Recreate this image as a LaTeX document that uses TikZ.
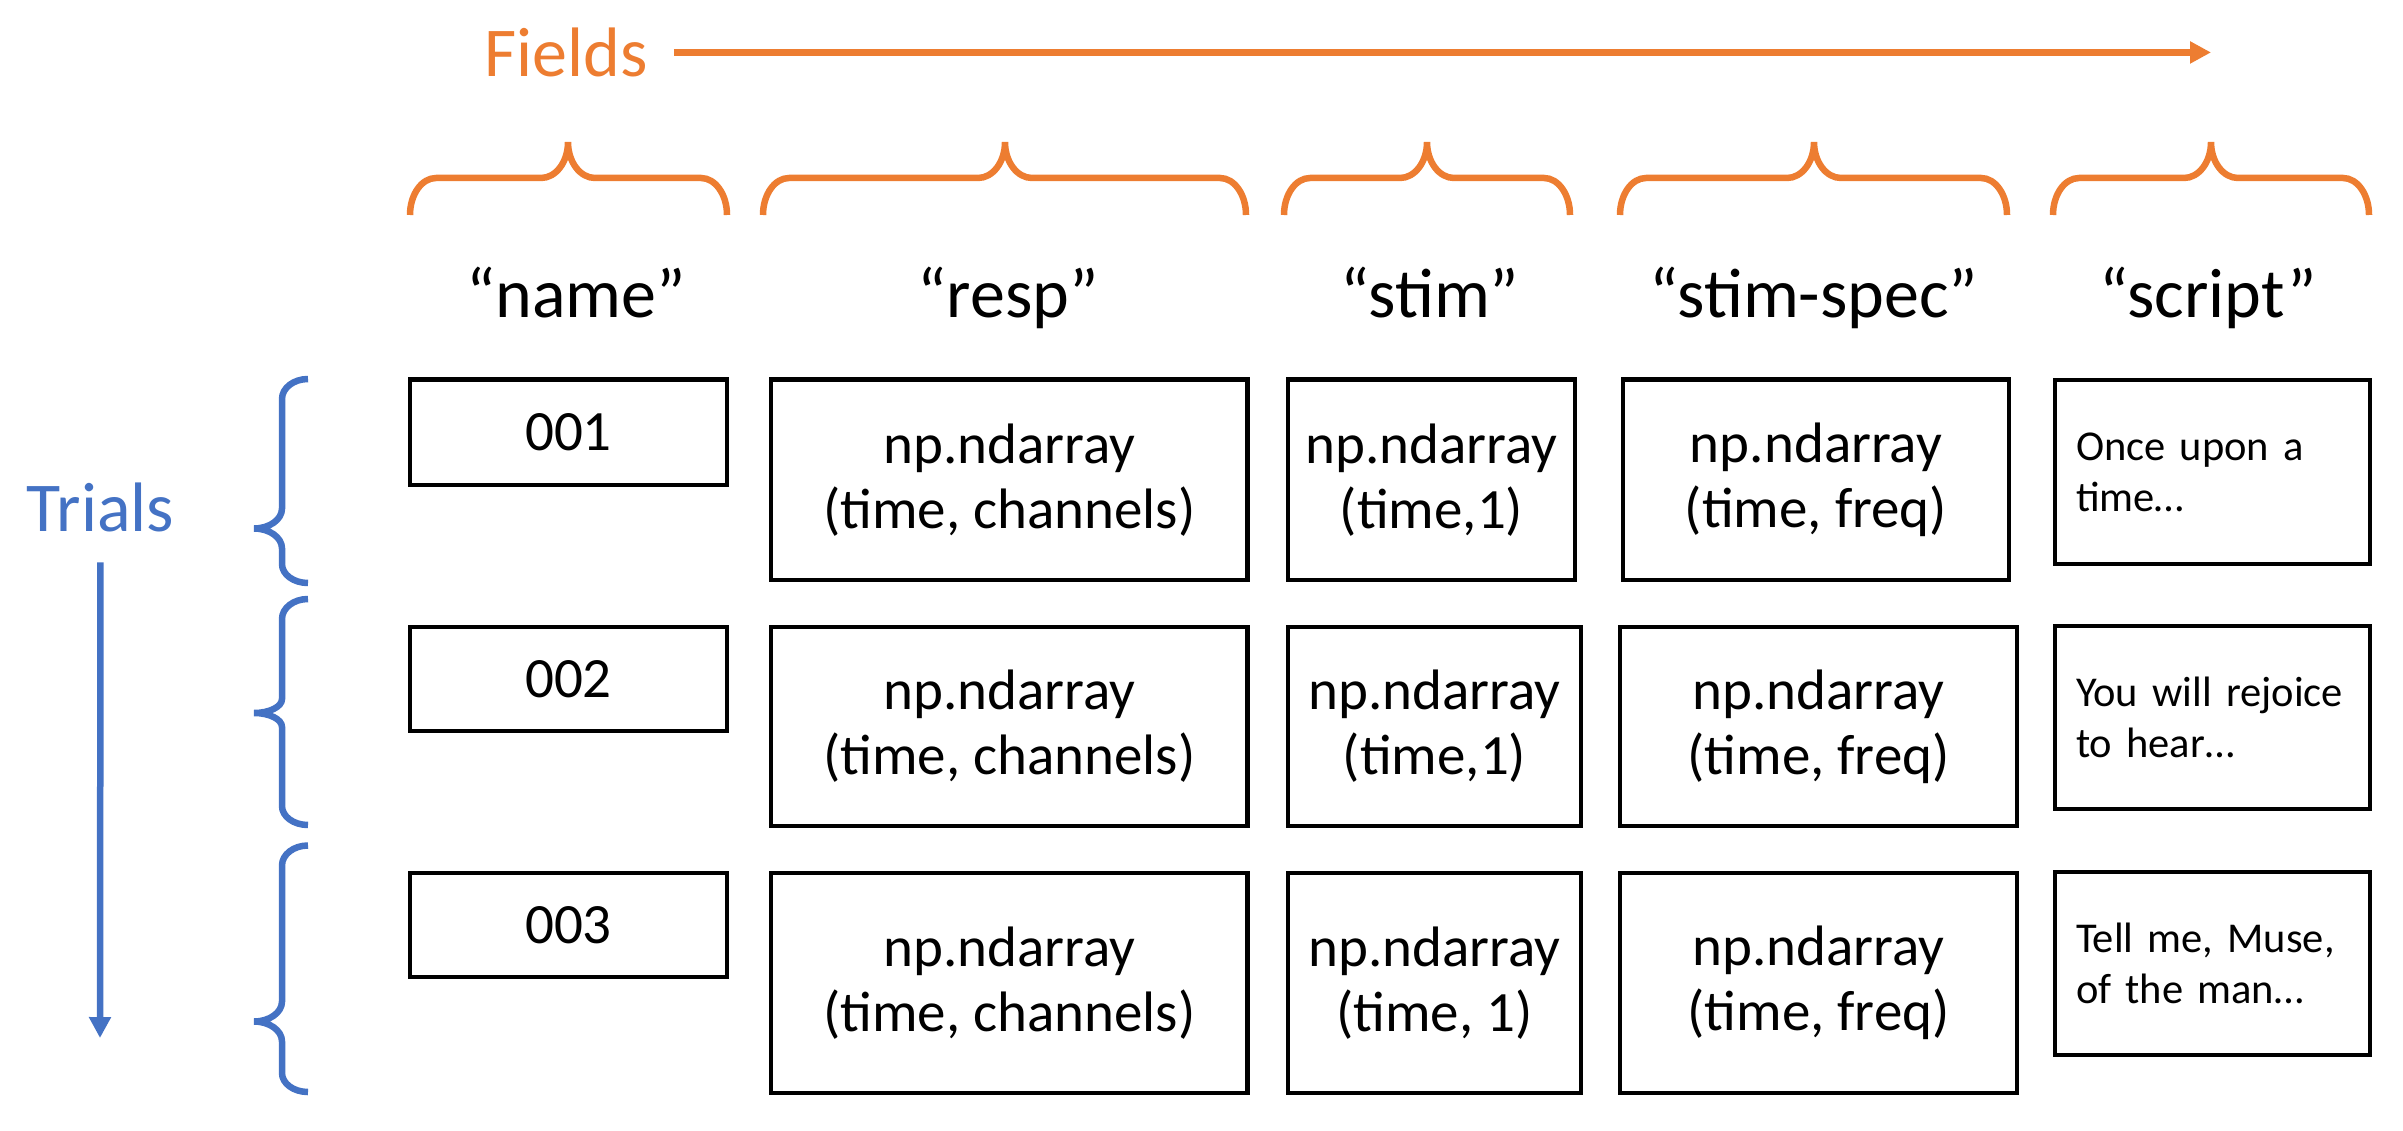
\documentclass[tikz,border=0pt]{standalone}
\usepackage{fontspec}
\setmainfont{Carlito}
\usetikzlibrary{arrows.meta}
\definecolor{fieldorange}{HTML}{ED7D31}
\definecolor{trialblue}{HTML}{4472C4}
\tikzset{
  cell/.style={draw=black, line width=4.5pt, inner sep=0pt, align=center,
    font=\fontsize{57}{65}\selectfont},
  scriptcell/.style={cell, align=left, text width=273pt,
    font=\fontsize{42.5}{51}\selectfont},
  header/.style={anchor=base, inner sep=0pt, font=\fontsize{70}{84}\selectfont},
  axislabel/.style={anchor=base, inner sep=0pt, font=\fontsize{70}{84}\selectfont},
  obrace/.style={draw=fieldorange, line width=6.5pt},
  bbrace/.style={draw=trialblue, line width=6.5pt},
  oarrow/.style={draw=fieldorange, line width=6.5pt, -{Triangle[length=21pt,width=21pt]}},
  barrow/.style={draw=trialblue, line width=6.5pt, -{Triangle[length=21pt,width=21pt]}},
}
% cell box: [options]{name}{x1}{y1}{x2}{y2}{text}
\newcommand{\cellbox}[7][cell]{%
  \node[#1, minimum width={#5-#3}, minimum height={#6-#4}] (#2)
    at ({(#3+#5)/2},{(#4+#6)/2}) {#7};}
% orange brace above a column: {x1}{xtip}{x2}
\newcommand{\orangebrace}[3]{%
  \draw[obrace] (#1,215) .. controls (#1,194.6) and ({#1+11.6},178) .. ({#1+26},178)
    -- ({#2-27},178) .. controls ({#2-12.1},178) and (#2,161.9) .. (#2,142)
    .. controls (#2,161.9) and ({#2+12.1},178) .. ({#2+27},178)
    -- ({#3-26},178) .. controls ({#3-11.6},178) and (#3,194.6) .. (#3,215);}
% blue brace left of a row: {ytop}{ytip}{ybot}{tip radius}
\newcommand{\bluebrace}[4]{%
  \draw[bbrace] (308,#1) .. controls (293.6,#1) and (282,{#1+9}) .. (282,{#1+20})
    -- (282,{#2-#4}) .. controls (282,{#2-0.448*#4}) and (269.5,#2) .. (254,#2)
    .. controls (269.5,#2) and (282,{#2+0.448*#4}) .. (282,{#2+#4})
    -- (282,{#3-19}) .. controls (282,{#3-8.5}) and (293.6,#3) .. (308,#3);}
\begin{document}
\begin{tikzpicture}[x=1pt,y=-1pt]
\useasboundingbox (0,0) rectangle (2403,1131);

% axis labels and arrows
\node[axislabel, text=fieldorange] (fields) at (566,76.5) {Fields};
\coordinate (fieldsend) at (2211,54);
\draw[oarrow, shorten <=26pt] (fields.east) -- (fields.east -| fieldsend);

\node[axislabel, text=trialblue] (trials) at (100.5,531.7) {Trials};
\coordinate (trialsend) at (100,1038);
\draw[barrow, shorten <=30pt] (trials.south) -- (trialsend);

% field braces
\orangebrace{410}{568}{727}
\orangebrace{763}{1005}{1246}
\orangebrace{1284}{1427}{1570}
\orangebrace{1620}{1814}{2007}
\orangebrace{2053}{2211}{2369}

% field headers
\node[header] (hname) at (576,318) {“name”};
\node[header] (hresp) at (1008,318) {“resp”};
\node[header] (hstim) at (1430,318) {“stim”};
\node[header] (hspec) at (1814,318) {“stim-spec”};
\node[header] (hscript) at (2208,318) {“script”};

% trial braces
\bluebrace{379}{528.5}{583}{20}
\bluebrace{599}{713}{825}{14}
\bluebrace{845.5}{1021.5}{1092}{20}

% row 1
\cellbox{name1}{410}{379.5}{727}{485}{001}
\cellbox{resp1}{771}{379.5}{1247.5}{580}{np.ndarray\\(time, channels)}
\cellbox{stim1}{1288}{379.5}{1575}{580}{np.ndarray\\(time,1)}
\cellbox{spec1}{1623}{379.5}{2009}{580}{np.ndarray\\(time, freq)}
\cellbox[scriptcell]{script1}{2055}{380}{2370}{564}{\mbox{Once upon a}\\\mbox{time…}}

% row 2
\cellbox{name2}{410}{627}{727}{731}{002}
\cellbox{resp2}{771}{627}{1247.5}{826}{np.ndarray\\(time, channels)}
\cellbox{stim2}{1288}{627}{1581}{826}{np.ndarray\\(time,1)}
\cellbox{spec2}{1620}{627}{2017}{826}{np.ndarray\\(time, freq)}
\cellbox[scriptcell]{script2}{2055}{626}{2370}{809}{\mbox{You will rejoice}\\\mbox{to hear…}}

% row 3
\cellbox{name3}{410}{873}{727}{977}{003}
\cellbox{resp3}{771}{873}{1247.5}{1093}{np.ndarray\\(time, channels)}
\cellbox{stim3}{1288}{873}{1581}{1093}{np.ndarray\\(time, 1)}
\cellbox{spec3}{1620}{873}{2017}{1093}{np.ndarray\\(time, freq)}
\cellbox[scriptcell]{script3}{2055}{872}{2370}{1055}{\mbox{Tell me, Muse,}\\\mbox{of the man…}}
\end{tikzpicture}
\end{document}
